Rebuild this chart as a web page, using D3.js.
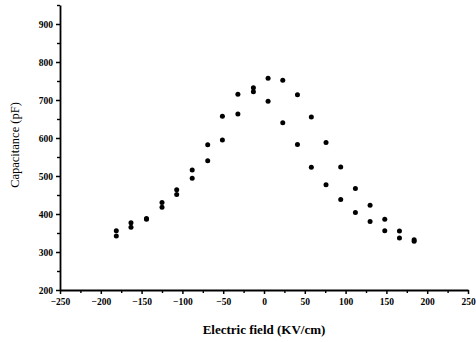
<!DOCTYPE html>
<html>
<head>
<meta charset="utf-8">
<script src="https://cdn.jsdelivr.net/npm/d3@7"></script>
<style>
  body { margin: 0; background: #fff; }
  svg { display: block; }
</style>
</head>
<body>
<svg id="drawing_region"></svg>
<script>
// electric field positions (KV/cm)
const fieldValues = [-181, -163, -144, -125, -107, -88, -69, -51, -32, -13, 5, 23, 41, 58, 76, 94, 112, 130, 148, 166, 184];
// upper branch capacitance (pF)
const upperBranch = [356, 377, 388, 430, 464, 516, 582, 657, 715, 732, 757, 752, 714, 655, 588, 524, 467, 423, 386, 355, 332];
// lower branch capacitance (pF)
const lowerBranch = [342, 365, 386, 418, 451, 494, 540, 595, 663, 722, 697, 640, 583, 523, 477, 438, 404, 380, 356, 337, 328];

const xTicks = [-250, -200, -150, -100, -50, 0, 50, 100, 150, 200, 250];
const xMinorTicks = [-225, -175, -125, -75, -25, 25, 75, 125, 175, 225];
const yTicks = [200, 300, 400, 500, 600, 700, 800, 900];
const yMinorTicks = [250, 350, 450, 550, 650, 750, 850, 950];

const config = {
  width: 476,
  height: 342,
  margin: {top: 5, right: 8, bottom: 52, left: 60}
};

const points = [];
fieldValues.forEach((f, i) => {
  points.push({x: f, y: upperBranch[i]});
  points.push({x: f, y: lowerBranch[i]});
});

const svg = d3.select('#drawing_region')
  .attr('width', config.width)
  .attr('height', config.height);

const inner_width = config.width - config.margin.left - config.margin.right;
const inner_height = config.height - config.margin.top - config.margin.bottom;

const chart = svg.append('g')
  .attr('transform', `translate(${config.margin.left}, ${config.margin.top})`);

const xscale = d3.scaleLinear()
  .domain([-250, 250])
  .range([0, inner_width]);

const yscale = d3.scaleLinear()
  .domain([200, 950])
  .range([inner_height, 0]);

const tickFont = '"Liberation Serif", "Times New Roman", serif';

// minor ticks first
chart.append('g')
  .attr('transform', `translate(0, ${inner_height})`)
  .call(d3.axisBottom(xscale).tickValues(xMinorTicks).tickSize(3).tickFormat(''))
  .call(g => g.select('.domain').remove())
  .call(g => g.selectAll('line').attr('stroke-width', 1.4));

chart.append('g')
  .call(d3.axisLeft(yscale).tickValues(yMinorTicks).tickSize(3).tickFormat(''))
  .call(g => g.select('.domain').remove())
  .call(g => g.selectAll('line').attr('stroke-width', 1.4));

// major axes
const xaxis_group = chart.append('g')
  .attr('transform', `translate(0, ${inner_height})`)
  .call(d3.axisBottom(xscale).tickValues(xTicks).tickSize(4).tickSizeOuter(0).tickPadding(4));

const yaxis_group = chart.append('g')
  .call(d3.axisLeft(yscale).tickValues(yTicks).tickSize(4).tickSizeOuter(0).tickPadding(3));

[xaxis_group, yaxis_group].forEach(g => {
  g.select('.domain').attr('stroke-width', 1.8);
  g.selectAll('line').attr('stroke-width', 1.5);
  g.selectAll('text')
    .attr('font-family', tickFont)
    .attr('font-weight', 'bold')
    .attr('font-size', 9.5)
    .attr('fill', '#000');
});

// data points
chart.selectAll('circle')
  .data(points)
  .enter()
  .append('circle')
  .attr('cx', d => xscale(d.x))
  .attr('cy', d => yscale(d.y))
  .attr('r', 2.5)
  .attr('fill', '#000');

// axis titles
svg.append('text')
  .attr('x', config.margin.left + inner_width / 2)
  .attr('y', 334)
  .attr('text-anchor', 'middle')
  .attr('font-family', tickFont)
  .attr('font-weight', 'bold')
  .attr('font-size', 13)
  .text('Electric field (KV/cm)');

svg.append('text')
  .attr('transform', 'translate(19, 145) rotate(-90)')
  .attr('text-anchor', 'middle')
  .attr('font-family', tickFont)
  .attr('font-size', 12.5)
  .text('Capacitance (pF)');
</script>
</body>
</html>
